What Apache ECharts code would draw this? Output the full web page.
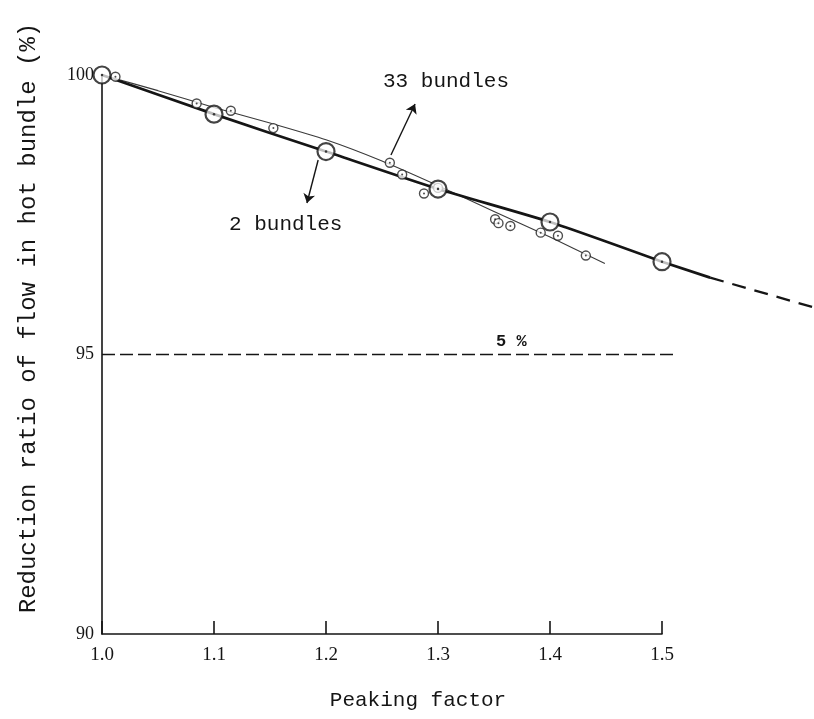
<!DOCTYPE html>
<html>
<head>
<meta charset="utf-8">
<script src="https://cdn.jsdelivr.net/npm/echarts@6/dist/echarts.min.js"></script>
<style>
  html, body { margin: 0; padding: 0; background: #fff; }
  #chart { width: 814px; height: 719px; }
</style>
</head>
<body>
<div id="chart"></div>
<script>
// Peaking factor on the x axis
const xTicks = [1.0, 1.1, 1.2, 1.3, 1.4, 1.5];
const yTicks = [90, 95, 100];

// 2 bundles: computed points (large circles) and the curve through them
const twoBundleX = [1.0, 1.1, 1.2, 1.3, 1.4, 1.5];
const twoBundleY = [100.0, 99.30, 98.63, 97.96, 97.37, 96.66];
// continuation of the 2 bundles curve past the last computed point
const twoTailX = [1.5, 1.543];
const twoTailY = [96.66, 96.375];
// extrapolated (dashed) part of the 2 bundles curve
const twoExtX = [1.543, 1.636];
const twoExtY = [96.375, 95.84];

// 33 bundles: computed points (small circles) and the fitted curve
const b33X = [1.012, 1.0845, 1.115, 1.153, 1.257, 1.268, 1.2875, 1.3, 1.351, 1.354, 1.3646, 1.3917, 1.4071, 1.432];
const b33Y = [99.97, 99.49, 99.36, 99.05, 98.43, 98.22, 97.88, 97.98, 97.42, 97.35, 97.30, 97.18, 97.125, 96.77];
const b33CurveX = [1.0, 1.05, 1.1, 1.15, 1.2, 1.25, 1.3, 1.35, 1.4, 1.449];
const b33CurveY = [100.0, 99.72, 99.42, 99.14, 98.84, 98.46, 98.02, 97.56, 97.10, 96.63];

// 5 % reduction limit
const limitX = [1.0, 1.514];
const limitY = [95, 95];

// leader arrows for the curve labels (tail -> head)
const arrow33 = [[1.258, 98.57], [1.2795, 99.48]];
const arrow2 = [[1.193, 98.48], [1.183, 97.71]];

const zip = (xs, ys) => xs.map((x, i) => [x, ys[i]]);

const INK = '#151515';
const MONO = '"Liberation Mono", "DejaVu Sans Mono", monospace';
const SERIF = '"Liberation Serif", "DejaVu Serif", serif';

const chart = echarts.init(document.getElementById('chart'), null, { renderer: 'canvas' });

chart.setOption({
  backgroundColor: '#ffffff',
  animation: false,
  grid: { left: 102, right: 152, top: 75, bottom: 85, containLabel: false },
  xAxis: {
    type: 'value',
    min: xTicks[0],
    max: xTicks[xTicks.length - 1],
    interval: 0.1,
    axisLine: { show: true, lineStyle: { color: INK, width: 1.6 } },
    axisTick: { show: true, inside: true, length: 13, lineStyle: { color: INK, width: 1.6 } },
    axisLabel: {
      color: INK, fontFamily: SERIF, fontSize: 19, margin: 12,
      formatter: v => v.toFixed(1)
    },
    splitLine: { show: false }
  },
  yAxis: {
    type: 'value',
    min: yTicks[0],
    max: yTicks[yTicks.length - 1],
    interval: 5,
    axisLine: { show: true, lineStyle: { color: INK, width: 1.6 } },
    axisTick: { show: false },
    axisLabel: { color: INK, fontFamily: SERIF, fontSize: 18, margin: 8 },
    splitLine: { show: false }
  },
  series: [
    {
      name: '33 bundles curve',
      type: 'line',
      data: zip(b33CurveX, b33CurveY),
      smooth: 0.25,
      symbol: 'none',
      lineStyle: { color: '#3a3a3a', width: 1.1 },
      z: 2
    },
    {
      name: '2 bundles curve',
      type: 'line',
      data: zip(twoBundleX, twoBundleY),
      smooth: 0.2,
      symbol: 'none',
      lineStyle: { color: INK, width: 2.7 },
      z: 3
    },
    {
      name: '33 bundles',
      type: 'scatter',
      data: zip(b33X, b33Y),
      symbol: 'circle',
      symbolSize: 9,
      itemStyle: { color: '#ffffff', borderColor: '#222', borderWidth: 1.4 },
      z: 4
    },
    {
      name: '33 bundles centre',
      type: 'scatter',
      data: zip(b33X, b33Y),
      symbol: 'circle',
      symbolSize: 2,
      itemStyle: { color: '#222' },
      z: 5
    },
    {
      name: '2 bundles',
      type: 'scatter',
      data: zip(twoBundleX, twoBundleY),
      symbol: 'circle',
      symbolSize: 17,
      itemStyle: { color: 'rgba(255,255,255,0.9)', borderColor: INK, borderWidth: 2.2 },
      z: 6
    },
    {
      name: '2 bundles centre',
      type: 'scatter',
      data: zip(twoBundleX, twoBundleY),
      symbol: 'circle',
      symbolSize: 2.5,
      itemStyle: { color: INK },
      z: 7
    },
    {
      name: 'leaders',
      type: 'lines',
      coordinateSystem: 'cartesian2d',
      symbol: ['none', 'arrow'],
      symbolSize: [0, 9],
      lineStyle: { color: INK, width: 1.4, opacity: 1, curveness: 0 },
      data: [{ coords: arrow33 }, { coords: arrow2 }],
      z: 5
    }
  ]
});

// Lines that run past the right end of the x axis are placed through the
// grid's own data-to-pixel mapping so they are not clipped by the grid.
const toPx = pts => pts.map(p => chart.convertToPixel({ gridIndex: 0 }, p));

chart.setOption({
  graphic: [
    {
      type: 'polyline', z: 3,
      shape: { points: toPx(zip(twoTailX, twoTailY)) },
      style: { stroke: INK, lineWidth: 2.7, fill: null }
    },
    {
      type: 'polyline', z: 3,
      shape: { points: toPx(zip(twoExtX, twoExtY)) },
      style: { stroke: INK, lineWidth: 2.3, fill: null, lineDash: [14, 9] }
    },
    {
      type: 'polyline', z: 2,
      shape: { points: toPx(zip(limitX, limitY)) },
      style: { stroke: INK, lineWidth: 1.6, fill: null, lineDash: [13, 5] }
    },
    {
      type: 'text', left: 383, top: 71,
      style: { text: '33 bundles', fill: INK, font: '21px ' + MONO }
    },
    {
      type: 'text', left: 229, top: 214,
      style: { text: '2 bundles', fill: INK, font: '21px ' + MONO }
    },
    {
      type: 'text', left: 496, top: 333,
      style: { text: '5 %', fill: INK, font: 'bold 17px ' + MONO }
    },
    {
      type: 'text', x: 418, y: 700,
      style: { text: 'Peaking factor', fill: INK, font: '21px ' + MONO, align: 'center', verticalAlign: 'middle' }
    },
    {
      type: 'text', x: 29, y: 318, rotation: Math.PI / 2,
      style: { text: 'Reduction ratio of flow in hot bundle (%)', fill: INK, font: '24px ' + MONO, align: 'center', verticalAlign: 'middle' }
    }
  ]
});
</script>
</body>
</html>
